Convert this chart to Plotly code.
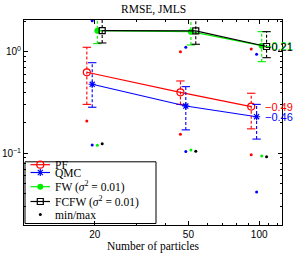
import math
import plotly.graph_objects as go

# ---------------- data ----------------
N = [20, 50, 100]
# horizontal spread factors per method (PF, QMC, FW, FCFW)
spread = [0.925, 0.975, 1.025, 1.075]

pf_mean = [0.627, 0.398, 0.288]
pf_hi = [1.105, 0.515, 0.390]
pf_lo = [0.303, 0.303, 0.174]
pf_max = [None, 1.00, 1.063]
pf_min = [0.2075, 0.154, 0.097]

qmc_mean = [0.478, 0.292, 0.229]
qmc_hi = [0.779, 0.453, 0.303]
qmc_lo = [0.284, 0.170, 0.138]
qmc_max = [2.02, 1.105, 0.943]
qmc_min = [0.121, 0.104, 0.0416]

fw_mean = [1.61, 1.574, 1.146]
fw_hi = [2.2, 2.2, 1.574]
fw_lo = [1.20, 1.164, 0.797]
fw_max = [None, None, None]
fw_min = [0.120, 0.108, 0.094]

fcfw_mean = [1.61, 1.60, 1.124]
fcfw_hi = [2.2, 2.2, 1.574]
fcfw_lo = [1.218, 1.183, 0.873]
fcfw_max = [None, None, None]
fcfw_min = [0.1243, 0.105, 0.0926]

slope_labels = ["−0.49", "−0.46", "−0.21", "−0.21"]
legend_labels = ["PF", "QMC", "FW (<i>σ</i><sup>2</sup> = 0.01)",
                 "FCFW (<i>σ</i><sup>2</sup> = 0.01)", "min/max"]
y_tickvals = [0.1, 1]
y_ticktext = ["10<sup>−1</sup>", "10<sup>0</sup>"]
x_tickvals = [20, 50, 100]
x_ticktext = ["20", "50", "100"]

# ---------------- style ----------------
SERIF = "Liberation Serif, Times New Roman, serif"
SANS = "Liberation Sans, Arial, sans-serif"
series = [
    dict(mean=pf_mean, hi=pf_hi, lo=pf_lo, mx=pf_max, mn=pf_min, color="#ff0000",
         marker=dict(symbol="circle-open", size=7, color="#ff0000",
                     line=dict(width=1.2, color="#ff0000"))),
    dict(mean=qmc_mean, hi=qmc_hi, lo=qmc_lo, mx=qmc_max, mn=qmc_min, color="#0000ff",
         marker=dict(symbol="asterisk-open", size=6, color="#0000ff",
                     line=dict(width=1.2, color="#0000ff"))),
    dict(mean=fw_mean, hi=fw_hi, lo=fw_lo, mx=fw_max, mn=fw_min, color="#00ee00",
         marker=dict(symbol="circle", size=6, color="#00ee00")),
    dict(mean=fcfw_mean, hi=fcfw_hi, lo=fcfw_lo, mx=fcfw_max, mn=fcfw_min, color="#000000",
         marker=dict(symbol="square-open", size=6, color="#000000",
                     line=dict(width=1.2, color="#000000"))),
]

fig = go.Figure()

for k, s in enumerate(series):
    xs = [n * spread[k] for n in N]
    c = s["color"]
    # dashed error bars
    ex, ey = [], []
    for x, lo, hi in zip(xs, s["lo"], s["hi"]):
        ex += [x, x, None]
        ey += [lo, hi, None]
    fig.add_trace(go.Scatter(x=ex, y=ey, mode="lines", showlegend=False,
                             line=dict(color=c, width=1.1, dash="3px,2px"), hoverinfo="skip"))
    fig.add_trace(go.Scatter(x=xs + xs, y=s["lo"] + s["hi"], mode="markers", showlegend=False,
                             marker=dict(symbol="line-ew-open", size=6, color=c,
                                         line=dict(color=c, width=1.1)), hoverinfo="skip"))
    # mean line
    fig.add_trace(go.Scatter(x=xs, y=s["mean"], mode="lines+markers", showlegend=False,
                             line=dict(color=c, width=1.2), marker=s["marker"]))
    # min / max
    fig.add_trace(go.Scatter(x=xs + xs, y=s["mn"] + s["mx"], mode="markers", showlegend=False,
                             marker=dict(symbol="circle", size=3, color=c)))

# slope labels
for k, s in enumerate(series):
    fig.add_annotation(x=math.log10(104), y=math.log10(s["mean"][-1]), xref="x", yref="y",
                       text=slope_labels[k], showarrow=False, xanchor="left", yanchor="middle",
                       font=dict(family=SANS, size=11, color=s["color"]))

# ---------------- custom legend (overlay axes in pixel units of the plot area) ----------------
L, R, T, B = 24, 282, 20, 225
rows = [164.7, 172.5, 186.7, 201.5, 214.5]
box_x = [25, 156, 156, 25, 25]
box_y = [161.8, 161.8, 223.5, 223.5, 161.8]
fig.add_trace(go.Scatter(x=box_x, y=box_y, xaxis="x2", yaxis="y2", mode="lines", fill="toself",
                         fillcolor="white", line=dict(color="black", width=1),
                         showlegend=False, hoverinfo="skip"))
for k, s in enumerate(series):
    fig.add_trace(go.Scatter(x=[30.5, 50], y=[rows[k], rows[k]], xaxis="x2", yaxis="y2",
                             mode="lines", line=dict(color=s["color"], width=1.2),
                             showlegend=False, hoverinfo="skip"))
    fig.add_trace(go.Scatter(x=[40.3], y=[rows[k]], xaxis="x2", yaxis="y2",
                             mode="markers", marker=s["marker"],
                             showlegend=False, hoverinfo="skip"))
fig.add_trace(go.Scatter(x=[40.3], y=[rows[4]], xaxis="x2", yaxis="y2", mode="markers",
                         marker=dict(symbol="circle", size=3, color="black"),
                         showlegend=False, hoverinfo="skip"))
for k, lab in enumerate(legend_labels):
    fig.add_annotation(x=52.5, y=rows[k], xref="x2", yref="y2", text=lab, showarrow=False,
                       xanchor="left", yanchor="middle",
                       font=dict(family=SERIF, size=11.5, color="black"))

# titles
fig.add_annotation(x=0.5, y=1 + (T - 9.5) / (B - T), xref="paper", yref="paper",
                   text="RMSE, JMLS", showarrow=False, yanchor="middle",
                   font=dict(family=SERIF, size=11.5, color="black"))
fig.add_annotation(x=0.5, y=-(246 - B) / (B - T), xref="paper", yref="paper",
                   text="Number of particles", showarrow=False, yanchor="middle",
                   font=dict(family=SERIF, size=11.5, color="black"))

axis_common = dict(showline=True, linecolor="black", linewidth=1, mirror="allticks",
                   ticks="inside", ticklen=4, tickwidth=1, tickcolor="black",
                   showgrid=False, zeroline=False, automargin=False,
                   tickfont=dict(family=SANS, size=10, color="black"))

fig.update_layout(
    template="none",
    width=299, height=253,
    margin=dict(l=L, r=299 - R, t=T, b=253 - B, pad=0, autoexpand=False),
    paper_bgcolor="white", plot_bgcolor="white",
    showlegend=False,
    xaxis=dict(type="log", range=[1.0, 2.097], tickvals=x_tickvals, ticktext=x_ticktext,
               minor=dict(ticks="inside", ticklen=2, tickcolor="black", showgrid=False,
                          tickvals=[30, 40, 60, 70, 80, 90, 110, 120]),
               **axis_common),
    yaxis=dict(type="log", range=[math.log10(0.0197), math.log10(2.05)],
               tickvals=y_tickvals, ticktext=y_ticktext,
               minor=dict(ticks="inside", ticklen=2, tickcolor="black", showgrid=False,
                          tickvals=[0.02, 0.03, 0.04, 0.05, 0.06, 0.07, 0.08, 0.09,
                                    0.2, 0.3, 0.4, 0.5, 0.6, 0.7, 0.8, 0.9, 2]),
               **axis_common),
    xaxis2=dict(overlaying="x", range=[L, R], visible=False, fixedrange=True,
                showgrid=False, zeroline=False),
    yaxis2=dict(overlaying="y", range=[B, T], visible=False, fixedrange=True,
                showgrid=False, zeroline=False),
)

fig.write_html("out.html", config={"displayModeBar": False},
               post_script="document.body.style.margin='0';")
